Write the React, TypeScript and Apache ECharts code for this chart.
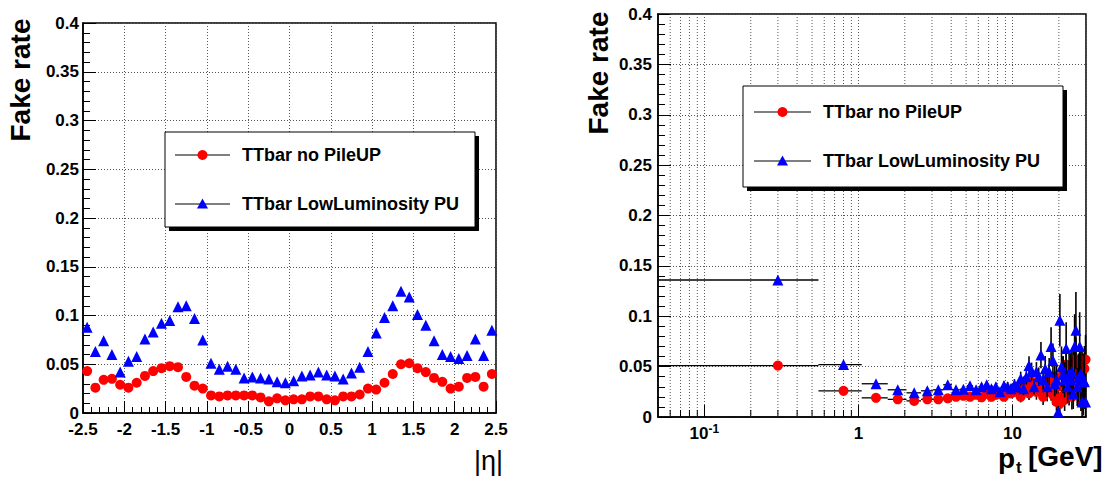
import React, { useEffect, useRef } from 'react';
import * as echarts from 'echarts';

// ---------- Left panel: fake rate vs eta ----------
const etaCenters = [
  -2.45, -2.35, -2.25, -2.15, -2.05, -1.95, -1.85, -1.75, -1.65, -1.55,
  -1.45, -1.35, -1.25, -1.15, -1.05, -0.95, -0.85, -0.75, -0.65, -0.55,
  -0.45, -0.35, -0.25, -0.15, -0.05, 0.05, 0.15, 0.25, 0.35, 0.45,
  0.55, 0.65, 0.75, 0.85, 0.95, 1.05, 1.15, 1.25, 1.35, 1.45,
  1.55, 1.65, 1.75, 1.85, 1.95, 2.05, 2.15, 2.25, 2.35, 2.45,
];
const etaNoPileUp = [
  0.043, 0.026, 0.034, 0.035, 0.029, 0.026, 0.031, 0.038, 0.043, 0.046,
  0.048, 0.047, 0.037, 0.028, 0.025, 0.018, 0.017, 0.018, 0.018, 0.018,
  0.018, 0.016, 0.012, 0.015, 0.013, 0.014, 0.014, 0.017, 0.017, 0.014,
  0.013, 0.017, 0.017, 0.019, 0.025, 0.024, 0.031, 0.040, 0.050, 0.051,
  0.046, 0.042, 0.036, 0.032, 0.025, 0.027, 0.036, 0.037, 0.027, 0.040,
];
const etaLowLumi = [
  0.088, 0.063, 0.074, 0.060, 0.042, 0.053, 0.058, 0.076, 0.083, 0.092,
  0.095, 0.109, 0.110, 0.097, 0.075, 0.051, 0.045, 0.048, 0.045, 0.036,
  0.037, 0.036, 0.035, 0.032, 0.031, 0.033, 0.038, 0.039, 0.042, 0.039,
  0.038, 0.035, 0.041, 0.047, 0.063, 0.082, 0.098, 0.110, 0.125, 0.119,
  0.101, 0.090, 0.074, 0.060, 0.058, 0.056, 0.059, 0.076, 0.059, 0.085,
];

// ---------- Right panel: fake rate vs pt ----------
const ptCenters = [
  0.3, 0.8, 1.3, 1.8, 2.3, 2.8, 3.3, 3.8, 4.3, 4.8,
  5.3, 5.8, 6.3, 6.8, 7.3, 7.8, 8.3, 8.8, 9.3, 9.8,
  10.3, 10.8, 11.3, 11.8, 12.3, 12.8, 13.3, 13.8, 14.3, 14.8,
  15.3, 15.8, 16.3, 16.8, 17.3, 17.8, 18.3, 18.8, 19.3, 19.8,
  20.3, 20.8, 21.3, 21.8, 22.3, 22.8, 23.3, 23.8, 24.3, 24.8,
  25.3, 25.8, 26.3, 26.8, 27.3, 27.8, 28.3, 28.8, 29.3, 29.8,
];
const ptBinHalfWidth = 0.25;
const ptNoPileUp = [
  0.051, 0.026, 0.019, 0.0175, 0.016, 0.0175, 0.0175, 0.0185, 0.020, 0.021,
  0.020, 0.022, 0.0195, 0.023, 0.020, 0.022, 0.023, 0.020, 0.024, 0.0235,
  0.025, 0.027, 0.020, 0.033, 0.028, 0.0235, 0.035, 0.030, 0.025, 0.033,
  0.028, 0.020, 0.030, 0.025, 0.037, 0.027, 0.022, 0.040, 0.015, 0.030,
  0.0135, 0.020, 0.043, 0.017, 0.052, 0.037, 0.025, 0.045, 0.020, 0.050,
  0.033, 0.057, 0.037, 0.027, 0.043, 0.020, 0.047, 0.0135, 0.048, 0.057,
];
const ptNoPileUpErr = [
  0.0006, 0.0008, 0.0009, 0.0010, 0.0011, 0.0012, 0.0014, 0.0016, 0.0018, 0.0021,
  0.0023, 0.0026, 0.0027, 0.0031, 0.0032, 0.0036, 0.0039, 0.0040, 0.0046, 0.0048,
  0.0052, 0.0058, 0.0055, 0.0072, 0.0069, 0.0066, 0.0085, 0.0082, 0.0078, 0.0092,
  0.0090, 0.0082, 0.0100, 0.0095, 0.0122, 0.0108, 0.0102, 0.0140, 0.0090, 0.0128,
  0.0090, 0.0115, 0.0170, 0.0110, 0.0190, 0.0160, 0.0135, 0.0185, 0.0125, 0.0200,
  0.0165, 0.0220, 0.0180, 0.0160, 0.0200, 0.0140, 0.0215, 0.0120, 0.0225, 0.0245,
];
const ptLowLumi = [
  0.136, 0.052, 0.033, 0.027, 0.024, 0.026, 0.027, 0.032, 0.027, 0.0275,
  0.031, 0.027, 0.030, 0.032, 0.028, 0.030, 0.025, 0.031, 0.030, 0.028,
  0.032, 0.030, 0.038, 0.028, 0.040, 0.051, 0.045, 0.030, 0.045, 0.040,
  0.0615, 0.037, 0.048, 0.030, 0.045, 0.070, 0.056, 0.033, 0.037, 0.005,
  0.096, 0.050, 0.042, 0.037, 0.068, 0.030, 0.043, 0.037, 0.045, 0.023,
  0.070, 0.086, 0.030, 0.039, 0.070, 0.043, 0.015, 0.037, 0.035, 0.015,
];
const ptLowLumiErr = [
  0.0009, 0.0010, 0.0012, 0.0013, 0.0014, 0.0015, 0.0017, 0.0020, 0.0021, 0.0024,
  0.0028, 0.0029, 0.0033, 0.0036, 0.0037, 0.0040, 0.0040, 0.0046, 0.0048, 0.0050,
  0.0056, 0.0058, 0.0070, 0.0062, 0.0078, 0.0092, 0.0090, 0.0075, 0.0095, 0.0092,
  0.0130, 0.0100, 0.0125, 0.0100, 0.0135, 0.0190, 0.0170, 0.0125, 0.0140, 0.0060,
  0.0260, 0.0200, 0.0185, 0.0175, 0.0260, 0.0160, 0.0210, 0.0195, 0.0230, 0.0150,
  0.0320, 0.0380, 0.0190, 0.0240, 0.0340, 0.0270, 0.0150, 0.0260, 0.0270, 0.0180,
];
const logMinorGrid = [
  0.06, 0.07, 0.08, 0.09, 0.2, 0.3, 0.4, 0.5, 0.6, 0.7, 0.8, 0.9,
  2, 3, 4, 5, 6, 7, 8, 9, 20,
];

const legendNames = ['TTbar no PileUP', 'TTbar LowLuminosity PU'];
const yTitle = 'Fake rate';

const FONT = '"Liberation Sans", Arial, Helvetica, sans-serif';
const RED = '#ff0000';
const BLUE = '#0000ff';
const GRID_LINE = { type: [1, 2] as any, color: '#555', width: 1 };

function legendBox(x: number, y: number, w: number, h: number, y1: number, y2: number, lx0: number, lx1: number, tx: number) {
  const mx = (lx0 + lx1) / 2;
  return [
    { type: 'rect', shape: { x: x + 4, y: y + 4, width: w, height: h }, style: { fill: '#000' }, z: 100 },
    { type: 'rect', shape: { x, y, width: w, height: h }, style: { fill: '#fff', stroke: '#000', lineWidth: 1 }, z: 101 },
    { type: 'line', shape: { x1: lx0, y1, x2: lx1, y2: y1 }, style: { stroke: '#000', lineWidth: 1.2 }, z: 102 },
    { type: 'circle', shape: { cx: mx, cy: y1, r: 5 }, style: { fill: RED }, z: 103 },
    { type: 'text', x: tx, y: y1, style: { text: legendNames[0], font: `bold 18px ${FONT}`, fill: '#000', verticalAlign: 'middle', align: 'left' }, z: 103 },
    { type: 'line', shape: { x1: lx0, y1: y2, x2: lx1, y2 }, style: { stroke: '#000', lineWidth: 1.2 }, z: 102 },
    { type: 'polygon', shape: { points: [[mx, y2 - 5.5], [mx - 5.5, y2 + 4.5], [mx + 5.5, y2 + 4.5]] }, style: { fill: BLUE }, z: 103 },
    { type: 'text', x: tx, y: y2, style: { text: legendNames[1], font: `bold 18px ${FONT}`, fill: '#000', verticalAlign: 'middle', align: 'left' }, z: 103 },
  ];
}

function errorRender(params: any, api: any) {
  const x = api.value(0);
  const y = api.value(1);
  const xl = api.value(2);
  const xh = api.value(3);
  const e = api.value(4);
  const pl = api.coord([xl, y]);
  const ph = api.coord([xh, y]);
  const pt = api.coord([x, Math.min(y + e, 0.4)]);
  const pb = api.coord([x, Math.max(y - e, 0)]);
  return {
    type: 'group',
    children: [
      { type: 'line', shape: { x1: pl[0], y1: pl[1], x2: ph[0], y2: ph[1] }, style: { stroke: '#000', lineWidth: 1.3 } },
      { type: 'line', shape: { x1: pt[0], y1: pt[1], x2: pb[0], y2: pb[1] }, style: { stroke: '#000', lineWidth: 1.6 } },
    ],
  };
}

function minorGridRender(params: any, api: any) {
  const v = api.value(0);
  const p0 = api.coord([v, 0]);
  const p1 = api.coord([v, 0.4]);
  return {
    type: 'group',
    children: [
      { type: 'line', shape: { x1: p0[0], y1: p0[1], x2: p1[0], y2: p1[1] }, style: { stroke: '#555', lineWidth: 1, lineDash: [1, 2] } },
      { type: 'line', shape: { x1: p0[0], y1: p0[1], x2: p0[0], y2: p0[1] - 7 }, style: { stroke: '#000', lineWidth: 1 } },
    ],
  };
}

function yAxisCfg(gridIndex: number, margin: number) {
  return {
    type: 'value',
    gridIndex,
    min: 0,
    max: 0.4,
    interval: 0.05,
    axisLine: { show: true, onZero: false, lineStyle: { color: '#000', width: 1.5 } },
    axisTick: { show: true, inside: true, length: 13, lineStyle: { color: '#000', width: 1 } },
    minorTick: { show: true, splitNumber: 5, length: 7, lineStyle: { color: '#000', width: 1 } },
    splitLine: { show: true, lineStyle: GRID_LINE },
    axisLabel: {
      margin,
      color: '#000',
      fontFamily: FONT,
      fontWeight: 'bold',
      fontSize: 17,
      lineHeight: 14,
      formatter: (v: number) => String(Math.round(v * 1000) / 1000),
    },
  };
}

export default function App() {
  const ref = useRef<HTMLDivElement>(null);

  useEffect(() => {
    if (!ref.current) return;
    const chart = echarts.init(ref.current, undefined, { renderer: 'svg' });

    const etaRed = etaCenters.map((x, i) => [x, etaNoPileUp[i]]);
    const etaBlue = etaCenters.map((x, i) => [x, etaLowLumi[i]]);
    const ptRed = ptCenters.map((x, i) => [x, ptNoPileUp[i]]);
    const ptBlue = ptCenters.map((x, i) => [x, ptLowLumi[i]]);
    const ptRedErr = ptCenters.map((x, i) => [x, ptNoPileUp[i], Math.max(x - ptBinHalfWidth, 0.05), x + ptBinHalfWidth, ptNoPileUpErr[i]]);
    const ptBlueErr = ptCenters.map((x, i) => [x, ptLowLumi[i], Math.max(x - ptBinHalfWidth, 0.05), x + ptBinHalfWidth, ptLowLumiErr[i]]);

    chart.setOption({
      animation: false,
      backgroundColor: '#fff',
      grid: [
        { left: 83, top: 23, width: 413, height: 390, show: true, borderColor: '#000', borderWidth: 1.5, backgroundColor: 'transparent' },
        { left: 658, top: 14, width: 428, height: 403, show: true, borderColor: '#000', borderWidth: 1.5, backgroundColor: 'transparent' },
      ],
      xAxis: [
        {
          type: 'value',
          gridIndex: 0,
          min: -2.5,
          max: 2.5,
          interval: 0.5,
          axisLine: { show: true, onZero: false, lineStyle: { color: '#000', width: 1.5 } },
          axisTick: { show: true, inside: true, length: 12, lineStyle: { color: '#000', width: 1 } },
          minorTick: { show: true, splitNumber: 5, length: 6, lineStyle: { color: '#000', width: 1 } },
          splitLine: { show: true, lineStyle: GRID_LINE },
          axisLabel: { margin: 8, color: '#000', fontFamily: FONT, fontWeight: 'bold', fontSize: 17, lineHeight: 16, interval: 0 },
        },
        {
          type: 'log',
          logBase: 10,
          gridIndex: 1,
          min: 0.05,
          max: 30,
          axisLine: { show: true, onZero: false, lineStyle: { color: '#000', width: 1.5 } },
          axisTick: { show: true, inside: true, length: 12, lineStyle: { color: '#000', width: 1 } },
          splitLine: { show: true, lineStyle: GRID_LINE },
          axisLabel: {
            margin: 6,
            showMinLabel: false,
            showMaxLabel: false,
            formatter: (v: number) => {
              const l = Math.log10(v);
              const e = Math.round(l);
              if (Math.abs(l - e) > 1e-6) return '';
              if (e < 0) return `{b|10}{s|${e}}`;
              return `{b|${Math.pow(10, e)}}`;
            },
            rich: {
              b: { fontSize: 17, fontWeight: 'bold', fontFamily: FONT, color: '#000', lineHeight: 19, verticalAlign: 'bottom' },
              s: { fontSize: 12, fontWeight: 'bold', fontFamily: FONT, color: '#000', lineHeight: 8, verticalAlign: 'top' },
            },
          },
        },
      ],
      yAxis: [yAxisCfg(0, 4), yAxisCfg(1, 6)],
      series: [
        {
          type: 'scatter', xAxisIndex: 0, yAxisIndex: 0, data: etaRed,
          symbol: 'circle', symbolSize: 10, itemStyle: { color: RED, opacity: 1 }, z: 3,
        },
        {
          type: 'scatter', xAxisIndex: 0, yAxisIndex: 0, data: etaBlue,
          symbol: 'triangle', symbolSize: 11, itemStyle: { color: BLUE, opacity: 1 }, z: 4,
        },
        {
          type: 'custom', xAxisIndex: 1, yAxisIndex: 1, data: logMinorGrid.map((v) => [v, 0]),
          renderItem: minorGridRender, z: 1, silent: true,
        },
        {
          type: 'custom', xAxisIndex: 1, yAxisIndex: 1, data: ptRedErr,
          renderItem: errorRender, encode: { x: 0, y: 1 }, z: 2,
        },
        {
          type: 'scatter', xAxisIndex: 1, yAxisIndex: 1, data: ptRed,
          symbol: 'circle', symbolSize: 10, itemStyle: { color: RED, opacity: 1 }, z: 3,
        },
        {
          type: 'custom', xAxisIndex: 1, yAxisIndex: 1, data: ptBlueErr,
          renderItem: errorRender, encode: { x: 0, y: 1 }, z: 4,
        },
        {
          type: 'scatter', xAxisIndex: 1, yAxisIndex: 1, data: ptBlue,
          symbol: 'triangle', symbolSize: 11, itemStyle: { color: BLUE, opacity: 1 }, z: 5,
        },
      ],
      graphic: [
        ...legendBox(165, 132, 310, 95, 155, 204, 175, 230, 242),
        ...legendBox(743, 86, 320, 101, 112, 161, 754, 811, 823),
        { type: 'text', x: 20, y: 80, rotation: Math.PI / 2, style: { text: yTitle, font: `bold 28px ${FONT}`, fill: '#000', align: 'center', verticalAlign: 'middle' } },
        { type: 'text', x: 598, y: 73, rotation: Math.PI / 2, style: { text: yTitle, font: `bold 28px ${FONT}`, fill: '#000', align: 'center', verticalAlign: 'middle' } },
        { type: 'text', x: 503, y: 461, style: { text: '|η|', font: `27px ${FONT}`, fill: '#000', align: 'right', verticalAlign: 'middle' } },
        { type: 'text', x: 998, y: 458, style: { text: 'p', font: `bold 28px ${FONT}`, fill: '#000', align: 'left', verticalAlign: 'middle' } },
        { type: 'text', x: 1016, y: 467, style: { text: 't', font: `bold 17px ${FONT}`, fill: '#000', align: 'left', verticalAlign: 'middle' } },
        { type: 'text', x: 1028, y: 456, style: { text: '[GeV]', font: `bold 28px ${FONT}`, fill: '#000', align: 'left', verticalAlign: 'middle' } },
      ],
    });

    return () => chart.dispose();
  }, []);

  return (
    <div
      ref={ref}
      style={{ position: 'fixed', left: 0, top: 0, width: 1110, height: 477, background: '#fff' }}
    />
  );
}
